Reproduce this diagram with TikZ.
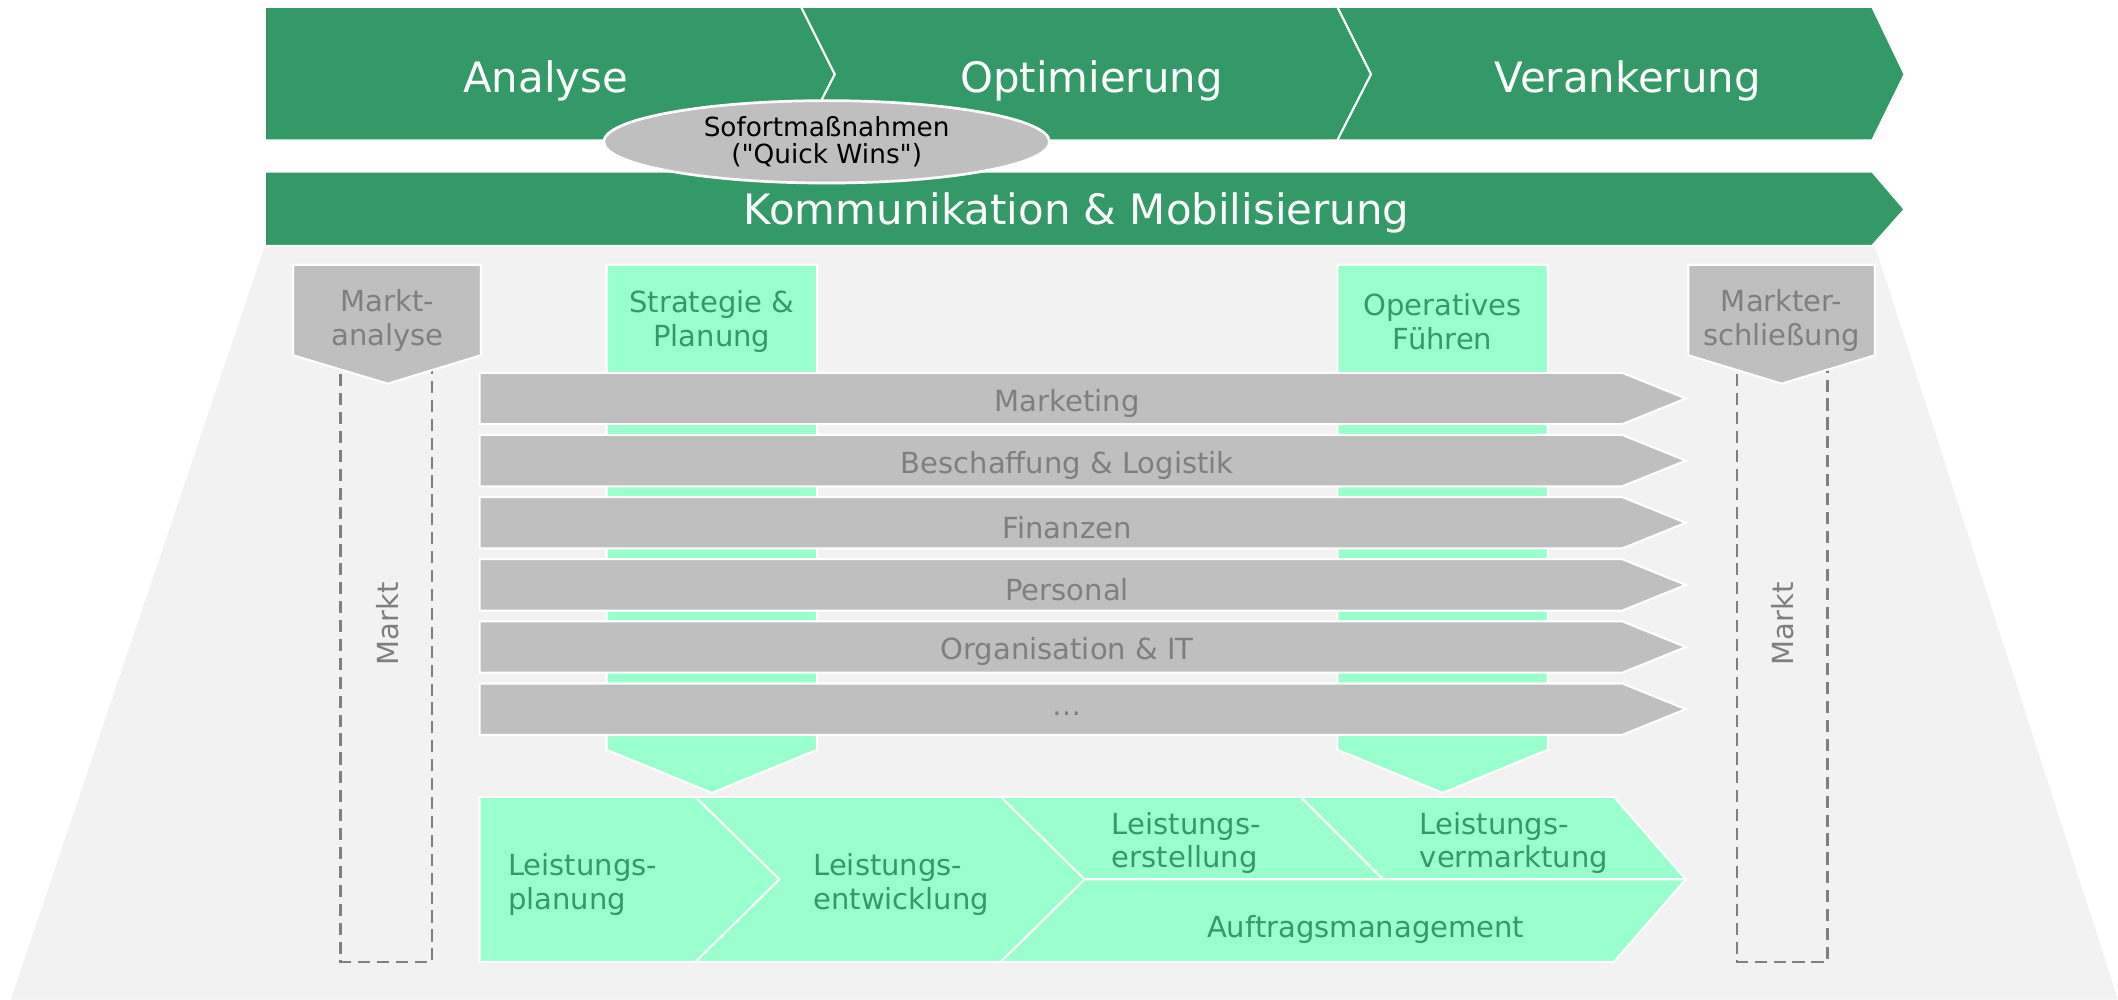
\documentclass[tikz,border=0pt]{standalone}
\usepackage{fontspec}
\usetikzlibrary{shapes.geometric}
\setmainfont{DejaVu Sans}
\definecolor{dgreen}{HTML}{339966}
\definecolor{lgreen}{HTML}{99FFCC}
\definecolor{gbox}{HTML}{BFBFBF}
\definecolor{gtext}{HTML}{7F7F7F}
\definecolor{bgc}{HTML}{F2F2F2}
\tikzset{
  wb/.style={draw=white,line width=1.5pt,line join=miter},
  phase/.style={wb,fill=dgreen},
  graybox/.style={wb,fill=gbox},
  greenbox/.style={wb,fill=lgreen},
  titletxt/.style={text=white,inner sep=0pt,font=\fontsize{31}{36}\selectfont},
  graytxt/.style={text=gtext,inner sep=0pt,align=center,font=\fontsize{21.5}{25}\selectfont},
  greentxt/.style={text=dgreen,inner sep=0pt,align=center,font=\fontsize{21.5}{25}\selectfont},
  dashbox/.style={draw=gtext,line width=1.8pt,dash pattern=on 9pt off 5pt},
}
\begin{document}
\begin{tikzpicture}[x=1pt,y=-1pt]
\useasboundingbox (0,0) rectangle (1568,740);
% background trapezoid
\fill[bgc] (196,182) -- (1388,182) -- (1568,740) -- (8,740) -- cycle;
% top phases
\path[phase] (196,5) -- (593,5) -- (618,55) -- (593,104) -- (196,104) -- cycle;
\path[phase] (593,5) -- (990,5) -- (1015,55) -- (990,104) -- (593,104) -- (618,55) -- cycle;
\path[phase] (990,5) -- (1386,5) -- (1410,55) -- (1386,104) -- (990,104) -- (1015,55) -- cycle;
\node[titletxt] (analyse) at (404,60) {Analyse};
\node[titletxt] (optim) at (808,60) {Optimierung};
\node[titletxt] (veranker) at (1205,60) {Verankerung};
% communication band
\path[phase] (196,127) -- (1386,127) -- (1410,155) -- (1386,182) -- (196,182) -- cycle;
\node[titletxt] (komm) at (797,158) {Kommunikation \& Mobilisierung};
% quick wins ellipse
\node[ellipse, draw=white, line width=2pt, fill=gbox, minimum width=330pt, minimum height=61pt, inner sep=0pt,
      align=center, font=\fontsize{19.5}{20}\selectfont] (quick) at (612,105) {Sofortmaßnahmen\\(\textquotedbl Quick Wins\textquotedbl)};
% market dashed boxes
\draw[dashbox] (252,263) rectangle (320,712);
\draw[dashbox] (1286,263) rectangle (1353,712);
\node[graytxt, rotate=90] (marktL) at (287,462) {Markt};
\node[graytxt, rotate=90] (marktR) at (1320,462) {Markt};
% market pentagons
\path[graybox] (217,196) -- (356,196) -- (356,263) -- (287,284) -- (217,263) -- cycle;
\node[graytxt] (manalyse) at (287,237) {Markt-\\analyse};
\path[graybox] (1250,196) -- (1388,196) -- (1388,263) -- (1319,284) -- (1250,263) -- cycle;
\node[graytxt] (merschl) at (1319,237) {Markter-\\schließung};
% green pillars
\path[greenbox] (449,196) -- (605,196) -- (605,555) -- (527,587) -- (449,555) -- cycle;
\node[greentxt] (strat) at (527,238) {Strategie \&\\Planung};
\path[greenbox] (990,196) -- (1146,196) -- (1146,555) -- (1068,587) -- (990,555) -- cycle;
\node[greentxt] (oper) at (1068,238) {Operatives\\Führen};
% gray bars
\foreach \t/\lab/\nm in {276/{Marketing}/b1, 322/{Beschaffung \& Logistik}/b2, 368/{Finanzen}/b3,
                        414/{Personal}/b4, 460/{Organisation \& IT}/b5, 506/{\ldots}/b6}{
  \path[graybox] (355,\t) -- (1201,\t) -- (1248,\t+19) -- (1201,\t+38) -- (355,\t+38) -- cycle;
  \node[graytxt] (\nm) at (790,\t+22.5) {\lab};
}
% bottom process
\path[greenbox] (355,590) -- (515,590) -- (577,651) -- (515,712) -- (355,712) -- cycle;
\path[greenbox] (515,590) -- (741,590) -- (803,651) -- (741,712) -- (515,712) -- (577,651) -- cycle;
\path[greenbox] (741,590) -- (963,590) -- (1024,651) -- (803,651) -- cycle;
\path[greenbox] (963,590) -- (1195,590) -- (1248,651) -- (1024,651) -- cycle;
\path[greenbox] (803,651) -- (1248,651) -- (1195,712) -- (741,712) -- cycle;
\node[greentxt, anchor=west, align=left] (lp) at (376,655) {Leistungs-\\planung};
\node[greentxt, anchor=west, align=left] (le) at (602,655) {Leistungs-\\entwicklung};
\node[greentxt, anchor=west, align=left] (ler) at (823,624) {Leistungs-\\erstellung};
\node[greentxt, anchor=west, align=left] (lv) at (1051,624) {Leistungs-\\vermarktung};
\node[greentxt] (auftrag) at (1011,688) {Auftragsmanagement};
\end{tikzpicture}
\end{document}
